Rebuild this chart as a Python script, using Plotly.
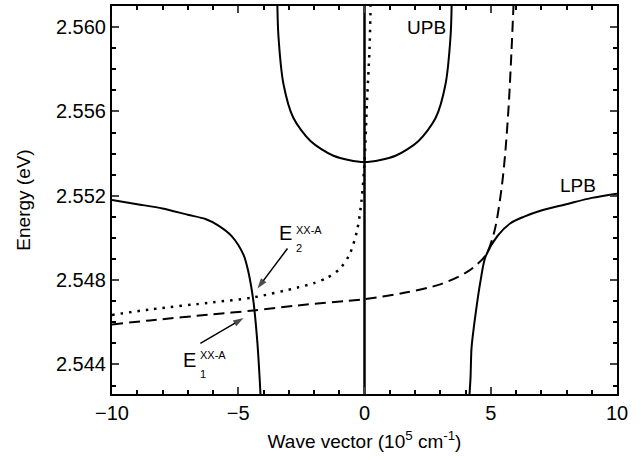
import plotly.graph_objects as go

# ---- data (k in 1e5 cm^-1, E in eV) ----
vline_k = [0, 0]
vline_E = [2.5426, 2.5610]

upb_k = [-3.45, -3.41, -3.21, -2.82, -2.14, -1.23, 0.0, 1.23, 2.14, 2.82, 3.21, 3.41, 3.45]
upb_E = [2.5610, 2.5596, 2.5573, 2.5557, 2.5546, 2.5539, 2.5536, 2.5539, 2.5546, 2.5557, 2.5573, 2.5596, 2.5610]

lpb_left_k = [-10.0, -9.0, -8.0, -7.0, -6.3, -5.8, -5.27, -4.79, -4.6, -4.4, -4.24, -4.16, -4.12]
lpb_left_E = [2.5518, 2.5516, 2.5514, 2.5511, 2.5509, 2.5506, 2.5501, 2.5492, 2.5484, 2.5470, 2.5450, 2.5435, 2.5426]

lpb_right_k = [4.16, 4.20, 4.24, 4.40, 4.60, 4.79, 5.27, 5.78, 6.3, 7.0, 8.0, 9.0, 10.0]
lpb_right_E = [2.5426, 2.5434, 2.5448, 2.5464, 2.5480, 2.5491, 2.5501, 2.5507, 2.5510, 2.5513, 2.5516, 2.5519, 2.5521]

dot_k = [-10.0, -8.5, -6.0, -4.4, -2.65, -2.0, -1.5, -1.0, -0.6, -0.3, -0.12, 0.0, 0.1, 0.2, 0.24]
dot_E = [2.54635, 2.54661, 2.54695, 2.54718, 2.54765, 2.54786, 2.54810, 2.54851, 2.54920, 2.55032, 2.55175, 2.55360, 2.55650, 2.55900, 2.56100]

dash_k = [-10.0, -8.5, -6.0, -4.4, -2.65, 0.0, 1.62, 3.0, 4.08, 4.79, 5.15, 5.43, 5.58, 5.72, 5.82, 5.90]
dash_E = [2.54590, 2.54609, 2.54638, 2.54656, 2.54680, 2.54710, 2.54741, 2.54780, 2.54840, 2.54916, 2.55034, 2.55237, 2.55411, 2.55647, 2.55883, 2.56100]

# arrows: [tail, head]
arrow2_k = [-3.05, -4.24]
arrow2_E = [2.5495, 2.5476]
arrow1_k = [-6.5, -4.79]
arrow1_E = [2.5450, 2.5462]

x_ticks = [-10, -5, 0, 5, 10]
y_ticks = [2.544, 2.548, 2.552, 2.556, 2.560]
y_tick_text = ["2.544", "2.548", "2.552", "2.556", "2.560"]

FONT = "Arial, Liberation Sans, sans-serif"
BLACK = "#000000"

fig = go.Figure()

def add(k, E, dash="solid", shape="spline", width=2):
    fig.add_trace(go.Scatter(x=k, y=E, mode="lines",
                             line=dict(color=BLACK, width=width, dash=dash, shape=shape, smoothing=0.8),
                             showlegend=False, hoverinfo="skip"))

add(vline_k, vline_E, shape="linear", width=2.5)
add(upb_k, upb_E)
add(lpb_left_k, lpb_left_E)
add(lpb_right_k, lpb_right_E)
add(dot_k, dot_E, dash="2.5px,6px", width=2.5)
add(dash_k, dash_E, dash="11px,6px")

for ak, aE in [(arrow2_k, arrow2_E), (arrow1_k, arrow1_E)]:
    fig.add_trace(go.Scatter(x=ak, y=aE, mode="lines+markers",
                             line=dict(color=BLACK, width=1.5),
                             marker=dict(symbol=["circle", "arrow"], size=[0.1, 11], color=BLACK,
                                         angleref="previous", line=dict(width=0)),
                             showlegend=False, hoverinfo="skip"))

ann = []
ann.append(dict(x=2.46, y=2.5600, text="UPB", showarrow=False, font=dict(size=19, family=FONT, color=BLACK)))
ann.append(dict(x=8.45, y=2.5525, text="LPB", showarrow=False, font=dict(size=19, family=FONT, color=BLACK)))
# E2 label
ann.append(dict(x=-2.80, y=2.55022, text="E", showarrow=False, xanchor="right",
                font=dict(size=20, family=FONT, color=BLACK)))
ann.append(dict(x=-2.80, y=2.55040, text="XX-A", showarrow=False, xanchor="left",
                font=dict(size=11, family=FONT, color=BLACK)))
ann.append(dict(x=-2.78, y=2.54954, text="2", showarrow=False, xanchor="left",
                font=dict(size=11, family=FONT, color=BLACK)))
# E1 label
ann.append(dict(x=-6.61, y=2.54423, text="E", showarrow=False, xanchor="right",
                font=dict(size=20, family=FONT, color=BLACK)))
ann.append(dict(x=-6.61, y=2.54444, text="XX-A", showarrow=False, xanchor="left",
                font=dict(size=11, family=FONT, color=BLACK)))
ann.append(dict(x=-6.59, y=2.54356, text="1", showarrow=False, xanchor="left",
                font=dict(size=11, family=FONT, color=BLACK)))

fig.update_layout(
    width=643, height=460,
    margin=dict(l=112, r=26, t=4, b=66),
    paper_bgcolor="white", plot_bgcolor="white",
    font=dict(family=FONT, size=19, color=BLACK),
    annotations=ann,
)
fig.update_xaxes(range=[-10, 10], tickvals=x_ticks, ticks="inside", ticklen=7, tickwidth=2,
                 showline=True, linewidth=2, linecolor=BLACK, mirror="ticks", showgrid=False,
                 zeroline=False,
                 minor=dict(dtick=1, ticks="inside", ticklen=4, tickwidth=1.5, tickcolor=BLACK),
                 tickfont=dict(size=20), title=dict(text="Wave vector (10<sup>5</sup> cm<sup>-1</sup>)",
                                                     font=dict(size=19), standoff=12))
fig.update_yaxes(range=[2.5426, 2.5610], tickvals=y_ticks, ticktext=y_tick_text, ticks="inside",
                 ticklen=7, tickwidth=2, showline=True, linewidth=2, linecolor=BLACK, mirror="ticks",
                 showgrid=False, zeroline=False,
                 minor=dict(dtick=0.001, tick0=2.544, ticks="inside", ticklen=4, tickwidth=1.5, tickcolor=BLACK),
                 tickfont=dict(size=20), title=dict(text="Energy (eV)", font=dict(size=19), standoff=20))

fig.write_html("out.html")
